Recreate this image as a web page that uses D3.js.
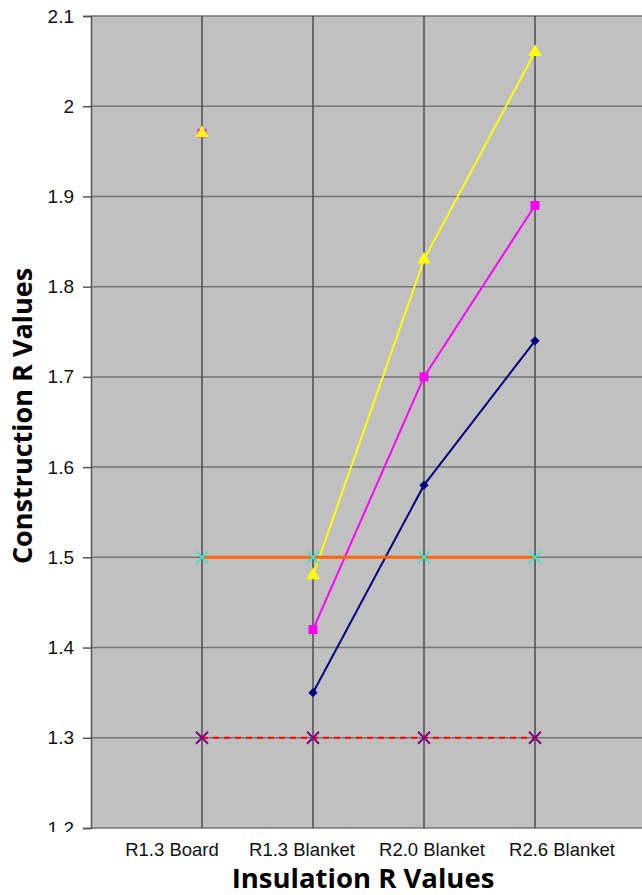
<!DOCTYPE html>
<html>
<head>
<meta charset="utf-8">
<script src="https://cdn.jsdelivr.net/npm/d3@7"></script>
<style>
  body { margin: 0; background: #fff; }
  svg { display: block; }
</style>
</head>
<body>
<svg id="chart"></svg>
<script>
// data
const categories = ["R1.3 Board", "R1.3 Blanket", "R2.0 Blanket", "R2.6 Blanket"];
const yTicks = [1.2, 1.3, 1.4, 1.5, 1.6, 1.7, 1.8, 1.9, 2, 2.1];
// board value is a lone point, no line to the blankets
const navySeries = [1.97, null, null, null];
const navyLine = [null, 1.35, 1.58, 1.74];
const pinkSeries = [1.97, null, null, null];
const pinkLine = [null, 1.42, 1.70, 1.89];
const yellowSeries = [1.97, null, null, null];
const yellowLine = [null, 1.48, 1.83, 2.06];
const upperLimit = [1.5, 1.5, 1.5, 1.5];
const lowerLimit = [1.3, 1.3, 1.3, 1.3];

const width = 642;
const height = 895;

const svg = d3.select("#chart")
    .attr("width", width)
    .attr("height", height);

const x = d3.scalePoint()
    .domain(categories)
    .range([202, 535]);

const y = d3.scaleLinear()
    .domain([1.2, 2.1])
    .range([828, 16]);

const step = x.step();
const plotLeft = x(categories[0]) - step;
const plotRight = x(categories[categories.length - 1]) + step;

// grey plot area
svg.append("rect")
    .attr("x", plotLeft)
    .attr("y", y(2.1))
    .attr("width", plotRight - plotLeft)
    .attr("height", y(1.2) - y(2.1))
    .attr("fill", "#c0c0c0");

// horizontal grid
svg.append("g")
    .selectAll("line")
    .data(yTicks)
    .enter()
    .append("line")
    .attr("x1", plotLeft)
    .attr("x2", plotRight)
    .attr("y1", d => y(d))
    .attr("y2", d => y(d))
    .attr("stroke", "#757575")
    .attr("stroke-width", 1.5);

// vertical grid at each category
svg.append("g")
    .selectAll("line")
    .data(categories)
    .enter()
    .append("line")
    .attr("x1", d => x(d))
    .attr("x2", d => x(d))
    .attr("y1", y(2.1))
    .attr("y2", y(1.2))
    .attr("stroke", "#4d4d4d")
    .attr("stroke-width", 1.5);

// y axis (bottom label is cut off in the original)
svg.append("defs").append("clipPath")
    .attr("id", "clipTicks")
    .append("rect")
    .attr("x", -plotLeft).attr("y", 0)
    .attr("width", plotLeft + 2).attr("height", 832);

const yAxis = svg.append("g")
    .attr("transform", `translate(${plotLeft},0)`)
    .attr("clip-path", "url(#clipTicks)")
    .call(d3.axisLeft(y).tickValues(yTicks).tickSize(8).tickPadding(9).tickFormat(d3.format("")));
yAxis.select(".domain").attr("stroke", "#555").attr("stroke-width", 1.5);
yAxis.selectAll(".tick line").attr("stroke", "#555").attr("stroke-width", 1.5);
yAxis.selectAll(".tick text")
    .attr("font-family", "Liberation Sans, Arial, sans-serif")
    .attr("font-size", 19)
    .attr("fill", "#111");

// category labels, spread a little wider than the grid
const xLabel = d3.scalePoint()
    .domain(categories)
    .range([172, 562]);

svg.append("g")
    .selectAll("text")
    .data(categories)
    .enter()
    .append("text")
    .attr("x", d => xLabel(d))
    .attr("y", 856)
    .attr("text-anchor", "middle")
    .attr("font-family", "Liberation Sans, Arial, sans-serif")
    .attr("font-size", 18.5)
    .attr("fill", "#111")
    .text(d => d);

// axis titles
svg.append("text")
    .attr("x", 363)
    .attr("y", 888)
    .attr("text-anchor", "middle")
    .attr("font-family", "Open Sans, sans-serif")
    .attr("font-weight", "bold")
    .attr("font-size", 27.5)
    .attr("fill", "#000")
    .text("Insulation R Values");

svg.append("text")
    .attr("transform", "translate(32,416) rotate(-90)")
    .attr("text-anchor", "middle")
    .attr("font-family", "Open Sans, sans-serif")
    .attr("font-weight", "bold")
    .attr("font-size", 27)
    .attr("fill", "#000")
    .text("Construction R Values");

const line = d3.line()
    .defined(d => d.v !== null)
    .x(d => x(d.c))
    .y(d => y(d.v));

const pts = arr => arr.map((v, i) => ({ c: categories[i], v: v }));

function drawLine(arr, color, w, dash) {
    svg.append("path")
        .datum(pts(arr))
        .attr("d", line)
        .attr("fill", "none")
        .attr("stroke", color)
        .attr("stroke-width", w)
        .attr("stroke-dasharray", dash || null);
}

function drawMarkers(arr, color, symbol, size) {
    svg.append("g")
        .selectAll("path")
        .data(pts(arr).filter(d => d.v !== null))
        .enter()
        .append("path")
        .attr("transform", d => `translate(${x(d.c)},${y(d.v)})`)
        .attr("d", d3.symbol().type(symbol).size(size))
        .attr("fill", color);
}

function drawCross(arr, color) {
    svg.append("g")
        .selectAll("path")
        .data(pts(arr))
        .enter()
        .append("path")
        .attr("transform", d => `translate(${x(d.c)},${y(d.v)})`)
        .attr("d", "M-6,-6L6,6M-6,6L6,-6")
        .attr("stroke", color)
        .attr("stroke-width", 2);
}

const merge = (ln, single) => ln.map((v, i) => v !== null ? v : single[i]);

// navy diamonds
drawLine(navyLine, "#000080", 2);
drawMarkers(merge(navyLine, navySeries), "#000080", d3.symbolDiamond2, 55);

// magenta squares
drawLine(pinkLine, "#ff00ff", 2);
drawMarkers(merge(pinkLine, pinkSeries), "#ff00ff", d3.symbolSquare, 80);

// yellow triangles
drawLine(yellowLine, "#ffff00", 2);
drawMarkers(merge(yellowLine, yellowSeries), "#ffff00", d3.symbolTriangle, 80);

// limits
drawLine(upperLimit, "#ff6600", 3);
drawCross(upperLimit, "#40e0d0");

drawLine(lowerLimit, "#ff0000", 2, "6,5");
drawCross(lowerLimit, "#800080");
</script>
</body>
</html>
